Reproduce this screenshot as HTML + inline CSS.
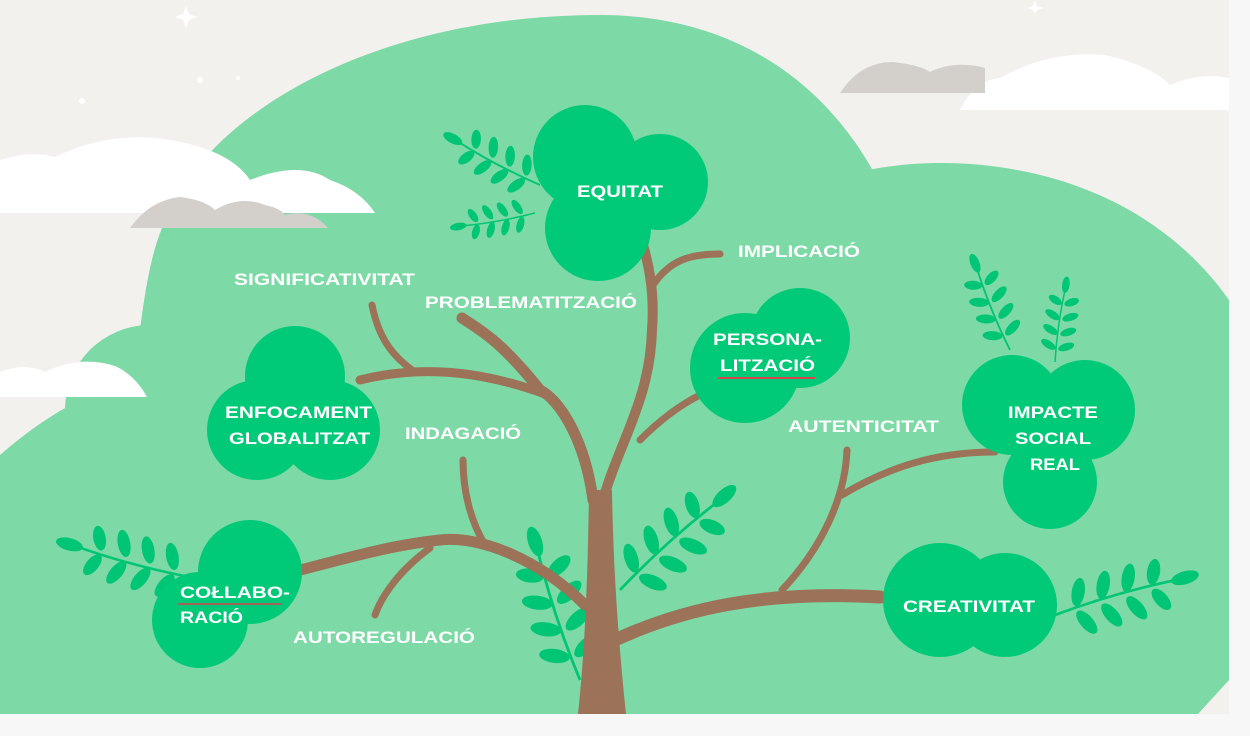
<!DOCTYPE html>
<html><head><meta charset="utf-8"><style>
html,body{margin:0;padding:0;background:#f7f7f7;}
svg{display:block}
text{font-family:"Liberation Sans",sans-serif;font-weight:bold;fill:#fff;font-size:17px;}
</style></head><body>
<svg width="1250" height="736" viewBox="0 0 1250 736" xmlns="http://www.w3.org/2000/svg">
<defs>
<g id="frond">
<path d="M0,0 Q50,-4 100,0" stroke="#00c574" stroke-width="2" fill="none"/>
<g fill="#00c574">
<ellipse cx="22" cy="-12" rx="5" ry="11" transform="rotate(25 22 -12)"/>
<ellipse cx="22" cy="12" rx="5" ry="11" transform="rotate(-25 22 12)"/>
<ellipse cx="42" cy="-12" rx="5" ry="11" transform="rotate(25 42 -12)"/>
<ellipse cx="42" cy="12" rx="5" ry="11" transform="rotate(-25 42 12)"/>
<ellipse cx="62" cy="-12" rx="5" ry="11" transform="rotate(25 62 -12)"/>
<ellipse cx="62" cy="12" rx="5" ry="11" transform="rotate(-25 62 12)"/>
<ellipse cx="82" cy="-11" rx="5" ry="10" transform="rotate(25 82 -11)"/>
<ellipse cx="82" cy="11" rx="5" ry="10" transform="rotate(-25 82 11)"/>
<ellipse cx="104" cy="0" rx="11" ry="5"/>
</g>
</g>
</defs>
<rect x="0" y="0" width="1229" height="714" fill="#f2f1ee"/>
<g fill="#fff">
<path d="M186,6 L189,14 L197,17 L189,20 L186,28 L183,20 L175,17 L183,14Z"/>
<circle cx="200" cy="80" r="3"/><circle cx="82" cy="101" r="3"/><circle cx="238" cy="78" r="2"/>
<path d="M1035,0 L1037,6 L1043,8 L1037,10 L1035,14 L1033,10 L1027,8 L1033,6Z"/>
</g>
<g fill="#7dd9a5">
<path d="M140,714 L140,330 C150,250 160,230 175,200 C230,100 390,15 600,15 C720,15 820,70 878,180 L878,714Z"/>
<path d="M860,172 C950,150 1130,160 1229,300 L1229,714 L860,714Z"/>
<circle cx="150" cy="410" r="85"/>
<path d="M0,455 Q40,420 80,400 L160,400 L160,714 L0,714Z"/>
</g>
<path d="M1229,680 L1229,714 L1198,714Z" fill="#f2f1ee"/>
<g fill="#fff">
<path d="M0,213 L0,160 Q30,150 55,157 Q110,130 170,140 Q230,150 250,180 Q300,160 330,180 Q360,190 375,213Z"/>
<path d="M0,397 L0,372 Q25,362 45,372 Q80,355 115,366 Q135,375 147,397Z"/>
<path d="M960,110 Q975,80 1000,78 Q1050,50 1105,55 Q1150,65 1170,85 Q1200,72 1229,78 L1229,110Z"/>
</g>
<g fill="#d3d0cc">
<path d="M130,228 Q150,200 180,197 Q205,200 215,210 Q240,195 265,205 Q280,208 285,215 Q310,208 328,228Z"/>
<path d="M840,93 Q860,62 893,62 Q920,65 930,72 Q955,60 985,68 L985,93Z"/>
</g>
<use href="#frond" transform="translate(540,185) rotate(-152) scale(0.95)"/>
<use href="#frond" transform="translate(535,213) rotate(170) scale(0.75)"/>
<use href="#frond" transform="translate(1010,350) rotate(-112) scale(0.9)"/>
<use href="#frond" transform="translate(1055,362) rotate(-82) scale(0.75)"/>
<use href="#frond" transform="translate(195,578) rotate(-165) scale(1.25)"/>
<use href="#frond" transform="translate(580,680) rotate(-108) scale(1.4)"/>
<use href="#frond" transform="translate(620,590) rotate(-42) scale(1.35)"/>
<use href="#frond" transform="translate(1055,615) rotate(-16) scale(1.3)"/>
<g fill="none" stroke="#9c7258" stroke-linecap="round">
<path d="M593,500 C585,440 560,400 540,390 C500,340 480,330 462,318" stroke-width="11"/>
<path d="M548,395 C480,370 420,365 360,380" stroke-width="9"/>
<path d="M415,372 C390,355 378,335 372,305" stroke-width="7"/>
<path d="M603,500 C620,440 650,400 652,330 C655,290 648,260 640,235" stroke-width="10"/>
<path d="M653,285 C670,260 690,254 720,254" stroke-width="7"/>
<path d="M640,440 C660,420 680,405 700,395" stroke-width="7"/>
<path d="M585,605 C540,560 480,535 440,540 C390,545 340,560 300,570" stroke-width="11"/>
<path d="M485,545 C470,520 463,490 463,460" stroke-width="7"/>
<path d="M430,548 C400,570 382,595 375,615" stroke-width="7"/>
<path d="M615,640 C680,610 760,590 880,597" stroke-width="13"/>
<path d="M782,590 C820,550 845,500 847,450" stroke-width="7"/>
<path d="M842,495 C900,460 950,452 995,452" stroke-width="7"/>
</g>
<path d="M578,714 C586,640 588,560 589,490 L612,490 C613,560 618,640 626,714Z" fill="#9c7258"/>
<g fill="#00c978">
<circle cx="585" cy="157" r="52"/><circle cx="660" cy="182" r="48"/><circle cx="598" cy="228" r="53"/>
<circle cx="745" cy="368" r="55"/><circle cx="800" cy="338" r="50"/>
<circle cx="295" cy="376" r="50"/><circle cx="257" cy="430" r="50"/><circle cx="330" cy="430" r="50"/>
<circle cx="1012" cy="405" r="50"/><circle cx="1085" cy="410" r="50"/><circle cx="1050" cy="482" r="47"/>
<circle cx="940" cy="600" r="57"/><circle cx="1005" cy="605" r="52"/>
<circle cx="250" cy="572" r="52"/><circle cx="200" cy="620" r="48"/>
</g>
<text x="577" y="197" textLength="86" lengthAdjust="spacingAndGlyphs">EQUITAT</text>
<text x="738" y="257" textLength="122" lengthAdjust="spacingAndGlyphs">IMPLICACIÓ</text>
<text x="234" y="285" textLength="181" lengthAdjust="spacingAndGlyphs">SIGNIFICATIVITAT</text>
<text x="425" y="308" textLength="212" lengthAdjust="spacingAndGlyphs">PROBLEMATITZACIÓ</text>
<text x="713" y="345" textLength="109" lengthAdjust="spacingAndGlyphs">PERSONA-</text>
<text x="720" y="371" textLength="95" lengthAdjust="spacingAndGlyphs">LITZACIÓ</text>
<line x1="718" y1="378" x2="815" y2="378" stroke="#d9434f" stroke-width="2"/>
<text x="225" y="418" textLength="147" lengthAdjust="spacingAndGlyphs">ENFOCAMENT</text>
<text x="229" y="444" textLength="141" lengthAdjust="spacingAndGlyphs">GLOBALITZAT</text>
<text x="405" y="439" textLength="116" lengthAdjust="spacingAndGlyphs">INDAGACIÓ</text>
<text x="788" y="432" textLength="151" lengthAdjust="spacingAndGlyphs">AUTENTICITAT</text>
<text x="1008" y="418" textLength="90" lengthAdjust="spacingAndGlyphs">IMPACTE</text>
<text x="1015" y="444" textLength="76" lengthAdjust="spacingAndGlyphs">SOCIAL</text>
<text x="1030" y="470" textLength="50" lengthAdjust="spacingAndGlyphs">REAL</text>
<text x="180" y="598" textLength="110" lengthAdjust="spacingAndGlyphs">COŁLABO-</text>
<line x1="178" y1="604" x2="282" y2="604" stroke="#a0635a" stroke-width="2"/>
<text x="180" y="623" textLength="63" lengthAdjust="spacingAndGlyphs">RACIÓ</text>
<text x="293" y="643" textLength="182" lengthAdjust="spacingAndGlyphs">AUTOREGULACIÓ</text>
<text x="903" y="612" textLength="132" lengthAdjust="spacingAndGlyphs">CREATIVITAT</text>
</svg>
</body></html>
